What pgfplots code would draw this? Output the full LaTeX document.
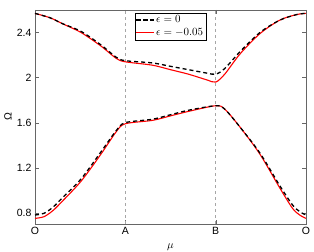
\documentclass[border=0pt]{standalone}
\usepackage{fontspec}
\setmainfont{Liberation Sans}
\usepackage{pgfplots}
\pgfplotsset{compat=1.18}
\begin{document}
\begin{tikzpicture}
\useasboundingbox (-35pt,-28pt) rectangle (279pt,224pt);
\begin{axis}[
  scale only axis, width=271pt, height=214pt,
  xmin=0, xmax=3, ymin=0.7, ymax=2.6,
  xtick={0,1,2,3}, xticklabels={O,A,B,O},
  ytick={0.8,1.2,1.6,2,2.4},
  yticklabels={0.8,1.2,1.6,2,2.4},
  tick align=inside,
  axis line style={gray!80!black},
  tick style={gray!80!black, major tick length=4pt},
  ticklabel style={font=\fontsize{10.5}{12}\selectfont},
  xlabel={$\mu$}, ylabel={Ω},
  xlabel style={font=\fontsize{11}{12}\selectfont, at={(axis description cs:0.5,-0.075)}, anchor=north},
  ylabel style={font=\fontsize{10.5}{12}\selectfont, at={(axis description cs:-0.1,0.5)}, anchor=center},
  legend style={at={(axis description cs:0.5,0.988)}, anchor=north, font=\fontsize{10.5}{12}\selectfont, inner sep=1pt, row sep=0pt},
  legend cell align=left,
  reverse legend,
]
\addplot[gray!70, dashed, line width=0.6pt, forget plot] coordinates {(1,0.7) (1,2.6)};
\addplot[gray!70, dashed, line width=0.6pt, forget plot] coordinates {(2,0.7) (2,2.6)};
% red, eps=-0.05
\addplot[red, line width=1.1pt, smooth] coordinates {
 (0,2.57) (0.17,2.53) (0.3,2.48) (0.51,2.40) (0.73,2.28) (0.9,2.17) (1.0,2.14)
 (1.3,2.11) (1.5,2.07) (1.7,2.03) (1.9,1.98) (2.0,1.96) (2.1,2.03) (2.27,2.21)
 (2.49,2.39) (2.71,2.51) (2.9,2.56) (3.0,2.57)};
\addlegendentry{$\epsilon=-0.05$}
\addplot[red, line width=1.1pt, smooth, forget plot] coordinates {
 (0,0.75) (0.1,0.765) (0.2,0.82) (0.3,0.90) (0.51,1.08) (0.73,1.32) (0.9,1.52) (1.0,1.59)
 (1.3,1.62) (1.5,1.66) (1.7,1.70) (2.0,1.75) (2.1,1.72) (2.27,1.56) (2.49,1.32)
 (2.71,1.02) (2.85,0.84) (2.93,0.78) (3.0,0.75)};
% black, eps=0
\addplot[black, line width=1.3pt, dash pattern=on 4pt off 3pt, smooth] coordinates {
 (0,2.57) (0.17,2.53) (0.3,2.48) (0.51,2.41) (0.73,2.29) (0.9,2.18) (1.0,2.15)
 (1.3,2.13) (1.5,2.10) (1.7,2.07) (1.9,2.04) (2.0,2.03) (2.1,2.08) (2.27,2.23)
 (2.49,2.40) (2.71,2.51) (2.9,2.56) (3.0,2.57)};
\addlegendentry{$\epsilon=0$}
\addplot[black, line width=1.3pt, dash pattern=on 4pt off 3pt, smooth, forget plot] coordinates {
 (0,0.78) (0.1,0.795) (0.2,0.85) (0.3,0.93) (0.51,1.10) (0.73,1.34) (0.9,1.53) (1.0,1.60)
 (1.3,1.63) (1.5,1.67) (1.7,1.71) (2.0,1.75) (2.1,1.72) (2.27,1.56) (2.49,1.33)
 (2.71,1.04) (2.85,0.87) (2.93,0.81) (3.0,0.78)};
\end{axis}
\end{tikzpicture}
\end{document}
